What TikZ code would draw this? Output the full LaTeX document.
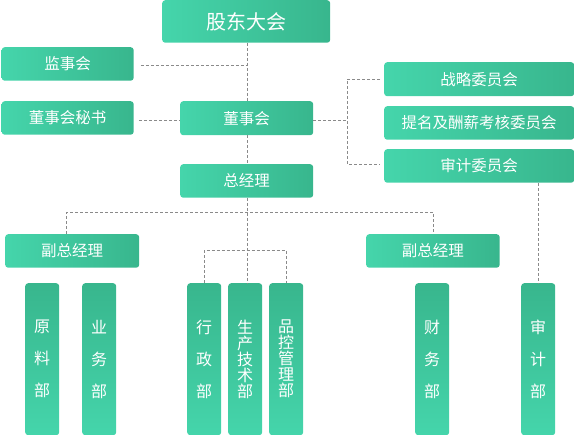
\documentclass[tikz,border=0pt]{standalone}
\usepackage{fontspec}
\newfontfamily\cjk{Noto Sans CJK SC}
\definecolor{gl}{HTML}{45D5AB}
\definecolor{gd}{HTML}{38B68D}
\definecolor{ln}{HTML}{8A8A8A}
\begin{document}
\begin{tikzpicture}[x=1pt,y=-1pt,
  hbox/.style={rounded corners=3pt, left color=gl, right color=gd, draw=none,
    text=white, inner sep=0pt, anchor=north west,
    font=\cjk\fontsize{15.5}{18}\selectfont},
  vbox/.style={rounded corners=3pt, top color=gd, bottom color=gl, draw=none,
    text=white, inner sep=0pt, anchor=north west, align=center,
    minimum width=34pt, minimum height=152pt,
    font=\cjk\fontsize{16}{32}\selectfont},
  vtight/.style={font=\cjk\fontsize{16}{16}\selectfont},
  dl/.style={draw=ln, line width=0.8pt, dash pattern=on 3pt off 2pt}]
\useasboundingbox (0,0) rectangle (574,435);
% top level
\node[hbox, minimum width=168pt, minimum height=42.5pt, font=\cjk\fontsize{20}{24}\selectfont] (gdh) at (162,0) {股东大会};
\node[hbox, minimum width=132pt, minimum height=33.5pt] (jsh) at (1.5,47) {监事会};
\node[hbox, minimum width=132pt, minimum height=33.5pt] (ms) at (1.5,101) {董事会秘书};
\node[hbox, minimum width=133pt, minimum height=34pt] (dsh) at (180,101) {董事会};
\node[hbox, minimum width=133pt, minimum height=33.5pt] (zjl) at (180,164) {总经理};
\node[hbox, minimum width=190pt, minimum height=34pt] (zl) at (384,62) {战略委员会};
\node[hbox, minimum width=190pt, minimum height=33.5pt] (tm) at (384,106) {提名及酬薪考核委员会};
\node[hbox, minimum width=190pt, minimum height=33.5pt] (sj) at (384,149) {审计委员会};
\node[hbox, minimum width=134pt, minimum height=33.5pt] (fz1) at (5,234) {副总经理};
\node[hbox, minimum width=133.5pt, minimum height=33.5pt] (fz2) at (366,234) {副总经理};
% departments
\node[vbox] (yl) at (25,283) {原\\料\\部};
\node[vbox] (yw) at (82,283) {业\\务\\部};
\node[vbox] (xz) at (187,283) {行\\政\\部};
\node[vbox, vtight] (sc) at (228,283) {生\\产\\技\\术\\部};
\node[vbox, vtight] (pk) at (269,283) {品\\控\\管\\理\\部};
\node[vbox] (cw) at (415,283) {财\\务\\部};
\node[vbox] (sjb) at (521,283) {审\\计\\部};
% connectors
\coordinate (cx) at (247,0);
\draw[dl] (gdh.south -| cx) -- (dsh.north -| cx);
\draw[dl] ([xshift=7pt]jsh.east |- 0,65) -- (cx |- 0,65);
\draw[dl] ([xshift=5pt]ms.east |- 0,120) -- (dsh.west |- 0,120);
\draw[dl] (dsh.south -| cx) -- (zjl.north -| cx);
\coordinate (bx) at (347,120);
\draw[dl] (dsh.east |- bx) -- (bx);
\draw[dl] ([xshift=-4pt]zl.west |- 0,79) -| (bx |- 0,79) -- (bx |- 0,164) -- ([xshift=-4pt]sj.west |- 0,164);
\draw[dl] (sj.south -| sjb.north) -- (sjb.north);
\draw[dl] (zjl.south -| cx) -- (sc.north -| cx);
\coordinate (hy) at (0,212.5);
\draw[dl] (fz1.north -| 66.5,0) -- (66.5,0 |- hy) -- (433,0 |- hy) -- (fz2.north -| 433,0);
\coordinate (by) at (0,250.5);
\draw[dl] (xz.north) -- (xz.north |- by) -- (pk.north |- by) -- (pk.north);
\end{tikzpicture}
\end{document}
